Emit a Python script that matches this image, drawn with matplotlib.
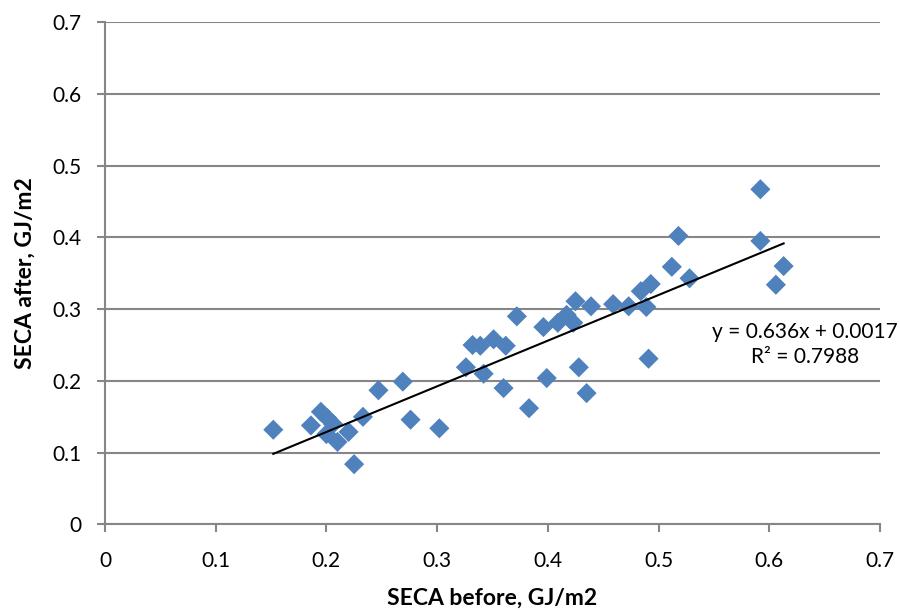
import numpy as np
import matplotlib
matplotlib.use("Agg")
import matplotlib.pyplot as plt

plt.rcParams['font.family'] = ['Lato', 'DejaVu Sans']

# SECA values (GJ/m2)
seca_before = [0.152, 0.186, 0.195, 0.201, 0.206, 0.200, 0.210, 0.220, 0.225, 0.233,
               0.247, 0.269, 0.276, 0.302, 0.326, 0.332, 0.339, 0.342, 0.351, 0.362,
               0.360, 0.372, 0.383, 0.396, 0.399, 0.409, 0.417, 0.423, 0.425, 0.428,
               0.435, 0.439, 0.459, 0.473, 0.484, 0.493, 0.489, 0.491, 0.512, 0.518,
               0.528, 0.592, 0.592, 0.606, 0.613]
seca_after = [0.132, 0.138, 0.157, 0.148, 0.140, 0.126, 0.115, 0.129, 0.084, 0.150,
              0.187, 0.199, 0.146, 0.134, 0.219, 0.250, 0.249, 0.210, 0.258, 0.249,
              0.190, 0.290, 0.162, 0.275, 0.204, 0.281, 0.292, 0.281, 0.311, 0.219,
              0.183, 0.304, 0.307, 0.304, 0.325, 0.335, 0.303, 0.231, 0.359, 0.402,
              0.343, 0.467, 0.395, 0.334, 0.360]

slope = 0.636
intercept = 0.0017
r2 = 0.7988

fig = plt.figure(figsize=(9, 6.12), dpi=100)
ax = fig.add_axes([0.1167, 0.143, 0.861, 0.821])

grid_col = '#868686'
ax.scatter(seca_before, seca_after, marker='D', s=105, color='#4F81BD',
           edgecolors='none', zorder=3)

xs = np.array([min(seca_before), max(seca_before)])
ax.plot(xs, slope * xs + intercept, color='black', lw=1.5, zorder=4)

ax.text(0.632, 0.251, f"y = {slope}x + {intercept}\nR\u00b2 = {r2}",
        ha='center', va='center', fontsize=15, linespacing=1.3, zorder=5)

ax.set_xlim(0, 0.7)
ax.set_ylim(0, 0.7)
ticks = [0, 0.1, 0.2, 0.3, 0.4, 0.5, 0.6, 0.7]
ax.set_xticks(ticks)
ax.set_yticks(ticks)
ax.set_xticklabels(['0', '0.1', '0.2', '0.3', '0.4', '0.5', '0.6', '0.7'])
ax.set_yticklabels(['0', '0.1', '0.2', '0.3', '0.4', '0.5', '0.6', '0.7'])
ax.tick_params(labelsize=15, length=6, width=1.5, color=grid_col)
ax.tick_params(axis='x', pad=13)
ax.tick_params(axis='y', pad=11)
ax.yaxis.grid(True, color=grid_col, lw=1.5)
ax.set_axisbelow(True)

for side in ['top', 'right']:
    ax.spines[side].set_visible(False)
for side in ['left', 'bottom']:
    ax.spines[side].set_color(grid_col)
    ax.spines[side].set_linewidth(1.5)

ax.set_xlabel('SECA before, GJ/m2', fontsize=16.5, fontweight='bold', labelpad=12)
ax.set_ylabel('SECA after, GJ/m2', fontsize=16.5, fontweight='bold', labelpad=12)

fig.savefig('out.png', dpi=100)
